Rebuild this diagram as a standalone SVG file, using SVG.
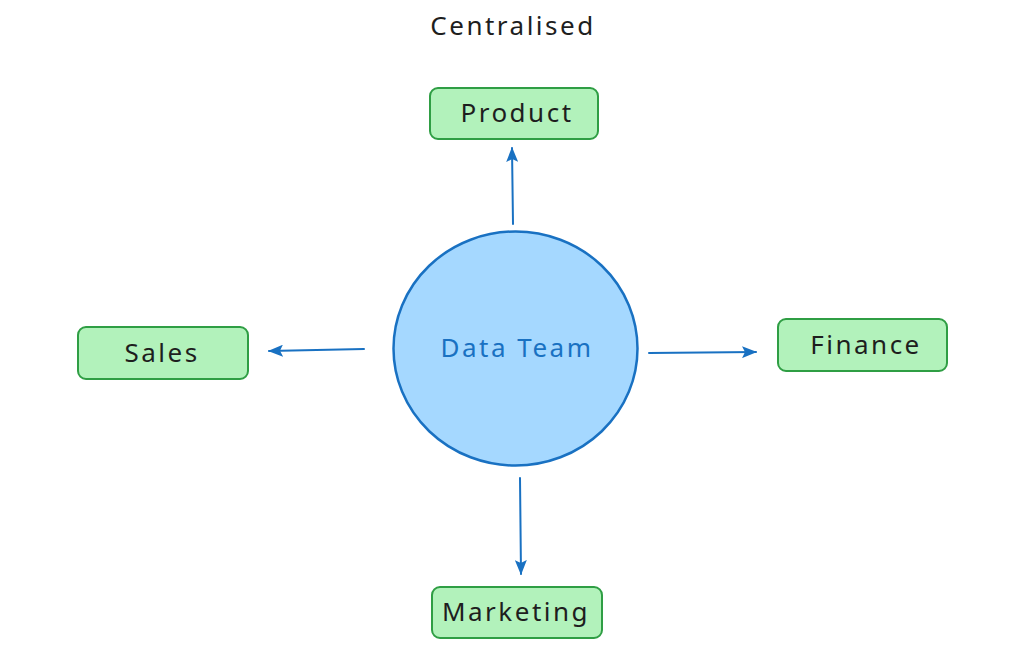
<svg xmlns="http://www.w3.org/2000/svg" width="1024" height="646" viewBox="0 0 1024 646">
<style>
.box{fill:#b2f2bb;stroke:#2f9e44;stroke-width:2}
.lbl{font-family:"Noto Sans","DejaVu Sans",sans-serif;font-size:26px;letter-spacing:2.5px;fill:#1e1e1e;text-anchor:middle}
.conn{stroke:#1971c2;stroke-width:2;fill:none;stroke-linecap:round}
</style>
<defs>
<marker id="ah" viewBox="0 0 15 12" refX="14" refY="6" markerWidth="15" markerHeight="12" markerUnits="userSpaceOnUse" orient="auto">
<path d="M0,0 L15,6 L0,12 L3,6 Z" fill="#1971c2"/>
</marker>
</defs>
<rect width="1024" height="646" fill="#ffffff"/>
<text class="lbl" x="513" y="35">Centralised</text>
<g id="connectors">
<line class="conn" x1="513" y1="224" x2="512" y2="148" marker-end="url(#ah)"/>
<line class="conn" x1="364" y1="349" x2="269" y2="351" marker-end="url(#ah)"/>
<line class="conn" x1="649" y1="353" x2="756" y2="352" marker-end="url(#ah)"/>
<line class="conn" x1="520" y1="478" x2="521" y2="574" marker-end="url(#ah)"/>
</g>
<g id="data-team">
<ellipse cx="515.5" cy="348.5" rx="122" ry="117" fill="#a5d8ff" stroke="#1971c2" stroke-width="2.5"/>
<text class="lbl" x="517" y="357" style="fill:#1971c2">Data Team</text>
</g>
<g id="product">
<rect class="box" x="430" y="88" width="168" height="51" rx="8"/>
<text class="lbl" x="517" y="122">Product</text>
</g>
<g id="sales">
<rect class="box" x="78" y="327" width="170" height="52" rx="8"/>
<text class="lbl" x="162" y="362">Sales</text>
</g>
<g id="finance">
<rect class="box" x="778" y="319" width="169" height="52" rx="8"/>
<text class="lbl" x="866" y="354">Finance</text>
</g>
<g id="marketing">
<rect class="box" x="432" y="587" width="170" height="51" rx="8"/>
<text class="lbl" x="516" y="621">Marketing</text>
</g>
</svg>
